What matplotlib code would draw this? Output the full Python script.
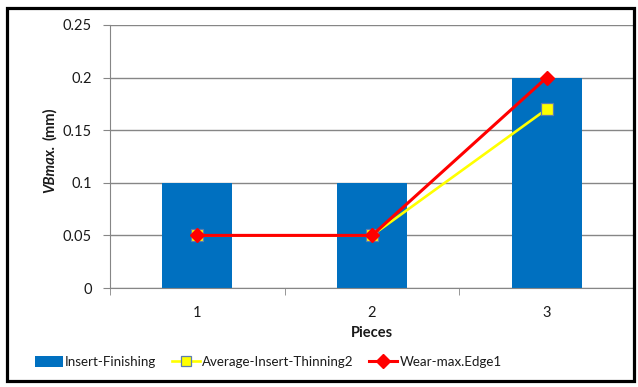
"""Tool wear per piece: bar plus two line series, Excel style."""

import matplotlib

matplotlib.use("Agg")
import matplotlib.pyplot as plt
from matplotlib.patches import Rectangle

pieces = ["1", "2", "3"]
insert_finishing = [0.1, 0.1, 0.2]
average_thinning = [0.05, 0.05, 0.17]
wear_max_edge = [0.05, 0.05, 0.2]
y_ticks = [0, 0.05, 0.1, 0.15, 0.2, 0.25]
y_tick_labels = ["0", "0.05", "0.1", "0.15", "0.2", "0.25"]

W, H = 638, 387
FONT = ["Lato", "DejaVu Sans"]
TEXT = "#1a1a1a"
GRID = "#868686"

plt.rcParams["font.family"] = FONT

fig = plt.figure(figsize=(W / 100, H / 100), dpi=100)
ax = fig.add_axes([110 / W, 1 - 288 / H, (634 - 110) / W, (288 - 25) / H])

x = list(range(1, len(pieces) + 1))
bars = ax.bar(x, insert_finishing, width=0.4, color="#0070C0", zorder=2,
              label="Insert-Finishing")
(avg_line,) = ax.plot(x, average_thinning, color="#FFFF00", lw=1.9,
                      marker="s", ms=8, mfc="#FFFF00", mec="#5B7DB0",
                      mew=0.9, zorder=3, label="Average-Insert-Thinning2")
(wear_line,) = ax.plot(x, wear_max_edge, color="#FF0000", lw=2.2,
                       marker="D", ms=7.5, mfc="#FF0000", mec="#FF0000",
                       zorder=4, label="Wear-max.Edge1")

ax.set_xlim(0.5, 3.5)
ax.set_ylim(0, 0.25)
ax.set_yticks(y_ticks)
ax.set_yticklabels(y_tick_labels)
ax.set_xticks(x)
ax.set_xticklabels(pieces)
ax.set_xticks([0.5, 1.5, 2.5, 3.5], minor=True)
ax.tick_params(axis="x", which="major", length=0, pad=13, labelsize=10.5,
               labelcolor=TEXT)
ax.tick_params(axis="x", which="minor", length=5, color=GRID)
ax.tick_params(axis="y", length=5, color=GRID, pad=8, labelsize=10.5,
               labelcolor=TEXT)
ax.yaxis.grid(True, color=GRID, lw=1)
ax.set_axisbelow(True)
for side in ("top", "right"):
    ax.spines[side].set_visible(False)
for side in ("left", "bottom"):
    ax.spines[side].set_color(GRID)

fig.text(372 / W, 1 - 333 / H, "Pieces", ha="center", va="center",
         fontsize=10.5, fontweight="bold", color=TEXT)
fig.text(50 / W, 1 - 193 / H, "VBmax.", rotation=90, ha="center",
         va="bottom", fontsize=10.5, fontweight="bold", style="italic",
         color=TEXT)
fig.text(50 / W, 1 - 108 / H, "(mm)", rotation=90, ha="center", va="top",
         fontsize=10.5, fontweight="bold", color=TEXT)

fig.legend(handles=[bars, avg_line, wear_line], loc="center",
           bbox_to_anchor=(268 / W, 1 - 362 / H), ncol=3, frameon=False,
           fontsize=9.6, handlelength=2.1, handleheight=0.9,
           handletextpad=0.15, columnspacing=1.2, markerscale=0.9,
           labelcolor=TEXT)

fig.patches.append(Rectangle((7 / W, 1 - 380.5 / H), 627 / W, 373 / H,
                             transform=fig.transFigure, fill=False,
                             edgecolor="black", lw=2.3, zorder=10))

fig.savefig("out.png", dpi=100)
